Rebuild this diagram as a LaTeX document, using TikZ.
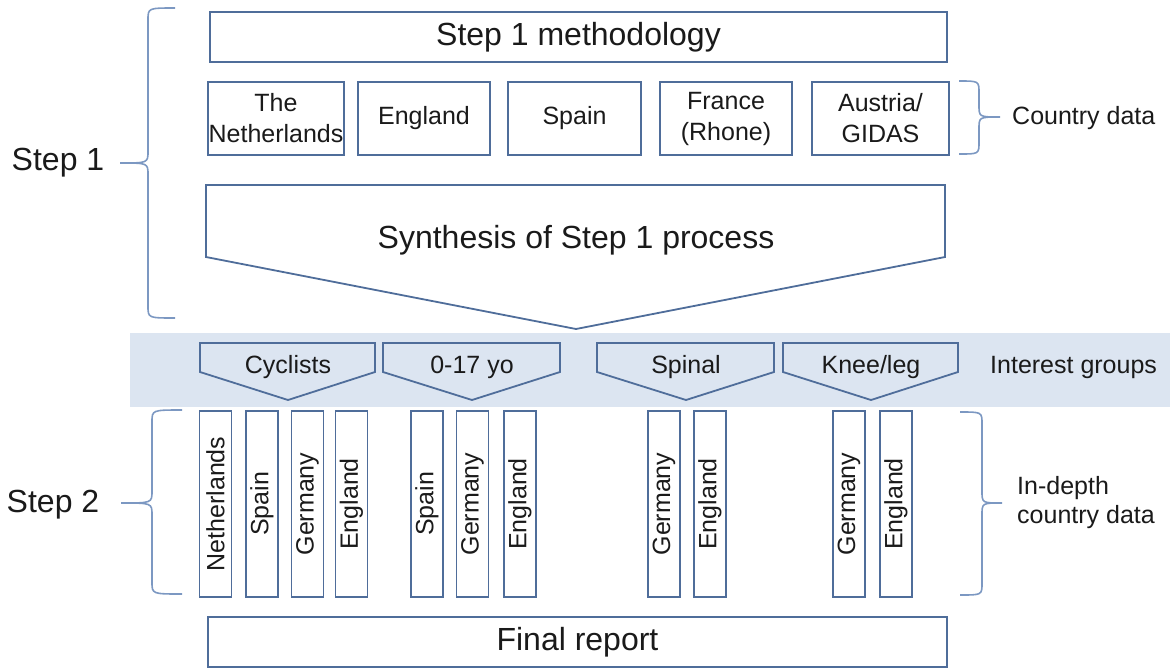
\documentclass[tikz,border=0pt]{standalone}
\usepackage{fontspec}
\setmainfont{Liberation Sans}
\definecolor{boxc}{HTML}{4F6D9A}
\definecolor{bracec}{HTML}{7C98C2}
\definecolor{bandc}{HTML}{DCE5F1}
\definecolor{txtc}{HTML}{1A1A1A}
\newcommand\mybrace[6]{%
  \draw[bracestyle] (#1,#4) .. controls (#2,#4) .. (#2,#4+12) -- (#2,#6-12)
    .. controls (#2,#6) .. (#3,#6) .. controls (#2,#6) .. (#2,#6+12)
    -- (#2,#5-12) .. controls (#2,#5) .. (#1,#5);}
\begin{document}
\begin{tikzpicture}[x=1pt,y=-1pt,
  every node/.style={text=txtc},
  bigtxt/.style={font=\fontsize{32}{38}\selectfont},
  smalltxt/.style={font=\fontsize{25}{31}\selectfont},
  boxstyle/.style={draw=boxc, line width=1.8pt, inner sep=0pt, align=center},
  cbox/.style={boxstyle, smalltxt, minimum height=73pt},
  vbox/.style={boxstyle, smalltxt, rotate=90, minimum width=186pt, minimum height=32pt},
  shapeline/.style={draw=boxc, line width=1.8pt, line join=miter},
  bracestyle/.style={draw=bracec, line width=1.6pt},
]
\useasboundingbox (0,0) rectangle (1170,670);

% band
\fill[bandc] (130,333) rectangle (1170,407);

% top box
\node[boxstyle, bigtxt, minimum width=737pt, minimum height=50pt] (meth) at (578.5,37) {Step 1 methodology};

% country boxes
\node[cbox, minimum width=136pt] (nl) at (276,118.5) {The\\Netherlands};
\node[cbox, minimum width=132pt] (en) at (424,118.5) {England};
\node[cbox, minimum width=133pt] (es) at (574.5,118.5) {Spain};
\node[cbox, minimum width=132pt] (fr) at (726,118.5) {France\\(Rhone)};
\node[cbox, minimum width=137pt] (at) at (880.5,118.5) {Austria/\\GIDAS};

% synthesis pentagon
\draw[shapeline] (206,185) -- (945,185) -- (945,257) -- (576,329) -- (206,257) -- cycle;
\node[bigtxt] (syn) at (576,240) {Synthesis of Step 1 process};

% interest group chevrons
\draw[shapeline] (200,343) -- (375,343) -- (375,372) -- (288,400) -- (200,372) -- cycle;
\node[smalltxt] (cyc) at (288,367) {Cyclists};
\draw[shapeline] (383,343) -- (560,343) -- (560,372) -- (472,400) -- (383,372) -- cycle;
\node[smalltxt] (yo) at (472,367) {0-17 yo};
\draw[shapeline] (597,343) -- (774,343) -- (774,372) -- (686,400) -- (597,372) -- cycle;
\node[smalltxt] (spi) at (686,367) {Spinal};
\draw[shapeline] (783,343) -- (958,343) -- (958,372) -- (871,400) -- (783,372) -- cycle;
\node[smalltxt] (kne) at (871,367) {Knee/leg};
\node[smalltxt, anchor=west, inner sep=0pt] (ig) at (990,367) {Interest groups};

% vertical boxes
\node[vbox] (v1) at (215.5,504) {Netherlands};
\node[vbox] (v2) at (262,504) {Spain};
\node[vbox] (v3) at (307.5,504) {Germany};
\node[vbox] (v4) at (351.5,504) {England};
\node[vbox] (v5) at (427,504) {Spain};
\node[vbox] (v6) at (472.5,504) {Germany};
\node[vbox] (v7) at (520,504) {England};
\node[vbox] (v8) at (664,504) {Germany};
\node[vbox] (v9) at (710,504) {England};
\node[vbox] (v10) at (849,504) {Germany};
\node[vbox] (v11) at (896,504) {England};

% final report
\node[boxstyle, bigtxt, minimum width=739pt, minimum height=50pt] (fin) at (577.5,642) {Final report};

% braces
\mybrace{175}{148}{120}{8}{318}{163}
\mybrace{182}{152}{121}{410}{594}{503}
\mybrace{959}{979}{1000}{81}{154}{117}
\mybrace{960}{982}{1002}{412}{595}{503}

% brace labels
\node[bigtxt, inner sep=0pt] (s1) at (58,163) {Step 1};
\node[bigtxt, inner sep=0pt] (s2) at (53,505) {Step 2};
\node[smalltxt, anchor=west, inner sep=0pt] (cd) at (1012,118) {Country data};
\node[smalltxt, anchor=west, inner sep=0pt, align=left, font=\fontsize{25}{29}\selectfont] (idc) at (1017,503) {In-depth\\country data};
\end{tikzpicture}
\end{document}
